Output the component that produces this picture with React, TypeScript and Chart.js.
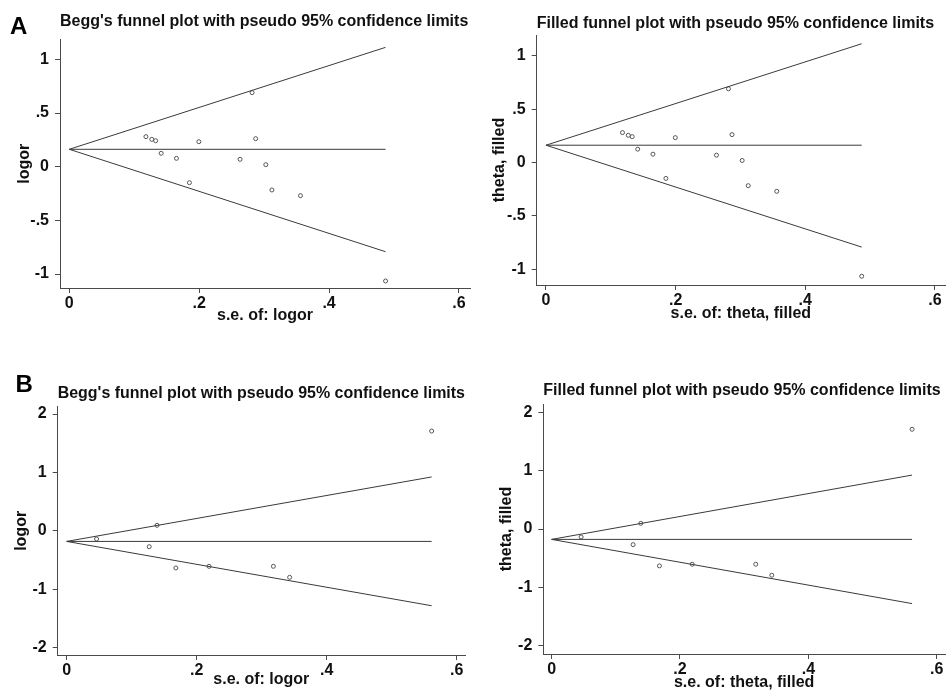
import React, { useEffect, useRef } from "react";
import { Chart, registerables } from "chart.js";

Chart.register(...registerables);

const FONT = '"Liberation Sans", Arial, Helvetica, sans-serif';

// ---- Panel A data (14 studies) ----
const aSe = [0.118, 0.127, 0.133, 0.1415, 0.165, 0.185, 0.1995, 0.263, 0.2815, 0.287, 0.3026, 0.312, 0.356, 0.487];
const aLogor = [0.28, 0.255, 0.242, 0.125, 0.078, -0.149, 0.233, 0.069, 0.69, 0.261, 0.019, -0.217, -0.27, -1.065];
const aFunnelSe = [0, 0.487];
const aFunnelCentre = [0.162, 0.162];
const aFunnelUpper = [0.162, 1.112];
const aFunnelLower = [0.162, -0.792];

// ---- Panel B data (8 studies) ----
const bSe = [0.046, 0.127, 0.139, 0.168, 0.219, 0.318, 0.343, 0.5615];
const bLogor = [-0.137, -0.268, 0.097, -0.632, -0.604, -0.604, -0.792, 1.709];
const bFunnelSe = [0, 0.5615];
const bFunnelCentre = [-0.178, -0.178];
const bFunnelUpper = [-0.178, 0.924];
const bFunnelLower = [-0.178, -1.278];

// ---- Ticks ----
const xTicks = [0, 0.2, 0.4, 0.6];
const xTickLabels = ["0", ".2", ".4", ".6"];
const aYTicks = [-1, -0.5, 0, 0.5, 1];
const aYTickLabels = ["-1", "-.5", "0", ".5", "1"];
const bYTicks = [-2, -1, 0, 1, 2];
const bYTickLabels = ["-2", "-1", "0", "1", "2"];

const beggTitle = "Begg's funnel plot with pseudo 95% confidence limits";
const filledTitle = "Filled funnel plot with pseudo 95% confidence limits";

type Rect = { l: number; t: number; r: number; b: number };
type PanelSpec = {
  canvas: { l: number; t: number; w: number; h: number };
  area: Rect;
  titleMid: number;
  xTitleMid: number;
  yTitleMid: number;
  xRange: [number, number];
  yRange: [number, number];
  title: string;
  xTitle: string;
  yTitle: string;
  se: number[];
  vals: number[];
  fSe: number[];
  fCentre: number[];
  fUpper: number[];
  fLower: number[];
  yTicks: number[];
  yTickLabels: string[];
};

const panels: PanelSpec[] = [
  {
    canvas: { l: 0, t: 0, w: 475, h: 345 },
    area: { l: 60, t: 39.5, r: 470, b: 288 },
    titleMid: 21.5,
    xTitleMid: 316,
    yTitleMid: 25,
    xRange: [-0.0143, 0.617],
    yRange: [-1.13, 1.185],
    title: beggTitle,
    xTitle: "s.e. of: logor",
    yTitle: "logor",
    se: aSe,
    vals: aLogor,
    fSe: aFunnelSe,
    fCentre: aFunnelCentre,
    fUpper: aFunnelUpper,
    fLower: aFunnelLower,
    yTicks: aYTicks,
    yTickLabels: aYTickLabels,
  },
  {
    canvas: { l: 475, t: 0, w: 475, h: 345 },
    area: { l: 536.7, t: 35, r: 945, b: 285 },
    titleMid: 23.8,
    xTitleMid: 313.2,
    yTitleMid: 500,
    xRange: [-0.0143, 0.6155],
    yRange: [-1.147, 1.194],
    title: filledTitle,
    xTitle: "s.e. of: theta, filled",
    yTitle: "theta, filled",
    se: aSe,
    vals: aLogor,
    fSe: aFunnelSe,
    fCentre: aFunnelCentre,
    fUpper: aFunnelUpper,
    fLower: aFunnelLower,
    yTicks: aYTicks,
    yTickLabels: aYTickLabels,
  },
  {
    canvas: { l: 0, t: 345, w: 475, h: 365 },
    area: { l: 57.7, t: 406.7, r: 465, b: 655 },
    titleMid: 393.2,
    xTitleMid: 679.8,
    yTitleMid: 21.6,
    xRange: [-0.0138, 0.6128],
    yRange: [-2.12, 2.125],
    title: beggTitle,
    xTitle: "s.e. of: logor",
    yTitle: "logor",
    se: bSe,
    vals: bLogor,
    fSe: bFunnelSe,
    fCentre: bFunnelCentre,
    fUpper: bFunnelUpper,
    fLower: bFunnelLower,
    yTicks: bYTicks,
    yTickLabels: bYTickLabels,
  },
  {
    canvas: { l: 475, t: 345, w: 475, h: 365 },
    area: { l: 543.3, t: 404, r: 950, b: 654 },
    titleMid: 390.5,
    xTitleMid: 682.5,
    yTitleMid: 507,
    xRange: [-0.0129, 0.6128],
    yRange: [-2.142, 2.142],
    title: filledTitle,
    xTitle: "s.e. of: theta, filled",
    yTitle: "theta, filled",
    se: bSe,
    vals: bLogor,
    fSe: bFunnelSe,
    fCentre: bFunnelCentre,
    fUpper: bFunnelUpper,
    fLower: bFunnelLower,
    yTicks: bYTicks,
    yTickLabels: bYTickLabels,
  },
];

const toPts = (xs: number[], ys: number[]) => xs.map((x, i) => ({ x, y: ys[i] }));

function Panel({ p }: { p: PanelSpec }) {
  const ref = useRef<HTMLCanvasElement | null>(null);
  useEffect(() => {
    if (!ref.current) return;
    const fontSize = 16;
    const lh = fontSize * 1.2;
    const titlePadTop = p.titleMid - p.canvas.t - lh / 2;
    const titlePadBottom = p.area.t - p.titleMid - lh / 2;
    const padLeft = p.yTitleMid - lh / 2 - p.canvas.l;
    const yWidth = p.area.l - p.canvas.l - padLeft;
    const xHeight = p.xTitleMid + lh / 2 - p.area.b;
    const padBottom = p.canvas.t + p.canvas.h - (p.xTitleMid + lh / 2);
    const padRight = p.canvas.l + p.canvas.w - p.area.r;
    const font = { family: FONT, size: fontSize, weight: "bold" as const, lineHeight: 1.2 };
    const axisColor = "#4a4a4a";
    const lineColor = "#3a3a3a";
    const textColor = "#111";
    const lineDs = (ys: number[]) => ({
      type: "scatter" as const,
      data: toPts(p.fSe, ys),
      showLine: true,
      borderColor: lineColor,
      borderWidth: 1,
      pointRadius: 0,
      fill: false,
    });
    const chart = new Chart(ref.current, {
      type: "scatter",
      data: {
        datasets: [
          lineDs(p.fCentre),
          lineDs(p.fUpper),
          lineDs(p.fLower),
          {
            type: "scatter",
            data: toPts(p.se, p.vals),
            pointRadius: 2,
            pointBorderWidth: 1,
            borderColor: "#555",
            backgroundColor: "rgba(255,255,255,0)",
            pointStyle: "circle",
          },
        ],
      },
      options: {
        animation: false,
        responsive: false,
        devicePixelRatio: 1,
        events: [],
        layout: { padding: { left: padLeft, right: padRight, top: 0, bottom: padBottom } },
        plugins: {
          legend: { display: false },
          tooltip: { enabled: false },
          title: {
            display: true,
            text: p.title,
            align: "start",
            fullSize: false,
            color: textColor,
            font,
            padding: { top: titlePadTop, bottom: titlePadBottom },
          },
        },
        scales: {
          x: {
            type: "linear",
            min: p.xRange[0],
            max: p.xRange[1],
            afterBuildTicks: (s: any) => {
              s.ticks = xTicks.map((v) => ({ value: v }));
            },
            afterFit: (s: any) => {
              s.height = xHeight;
            },
            ticks: {
              callback: (_v: any, i: number) => xTickLabels[i],
              color: textColor,
              font,
              padding: 1,
              maxRotation: 0,
              autoSkip: false,
            },
            grid: { display: true, drawOnChartArea: false, drawTicks: true, tickLength: 5, color: axisColor, lineWidth: 1 },
            border: { display: true, color: axisColor, width: 1 },
            title: { display: true, text: p.xTitle, color: textColor, font, padding: 0 },
          },
          y: {
            type: "linear",
            min: p.yRange[0],
            max: p.yRange[1],
            afterBuildTicks: (s: any) => {
              s.ticks = p.yTicks.map((v) => ({ value: v }));
            },
            afterFit: (s: any) => {
              s.width = yWidth;
            },
            ticks: {
              callback: (_v: any, i: number) => p.yTickLabels[i],
              color: textColor,
              font,
              padding: 6,
              autoSkip: false,
            },
            grid: { display: true, drawOnChartArea: false, drawTicks: true, tickLength: 5, color: axisColor, lineWidth: 1 },
            border: { display: true, color: axisColor, width: 1 },
            title: { display: true, text: p.yTitle, color: textColor, font, padding: 0 },
          },
        },
      },
    } as any);
    return () => chart.destroy();
  }, [p]);
  return (
    <canvas
      ref={ref}
      width={p.canvas.w}
      height={p.canvas.h}
      style={{ position: "absolute", left: p.canvas.l, top: p.canvas.t, width: p.canvas.w, height: p.canvas.h }}
    />
  );
}

const letterStyle: React.CSSProperties = {
  position: "absolute",
  fontFamily: FONT,
  fontWeight: "bold",
  fontSize: 24,
  lineHeight: "24px",
  color: "#000",
};

export default function App() {
  return (
    <div
      style={{
        position: "absolute",
        left: 0,
        top: 0,
        width: 950,
        height: 690,
        overflow: "hidden",
        background: "#fff",
      }}
    >
      {panels.map((p, i) => (
        <Panel key={i} p={p} />
      ))}
      <div style={{ ...letterStyle, left: 10, top: 13.6 }}>A</div>
      <div style={{ ...letterStyle, left: 15.5, top: 372 }}>B</div>
    </div>
  );
}
